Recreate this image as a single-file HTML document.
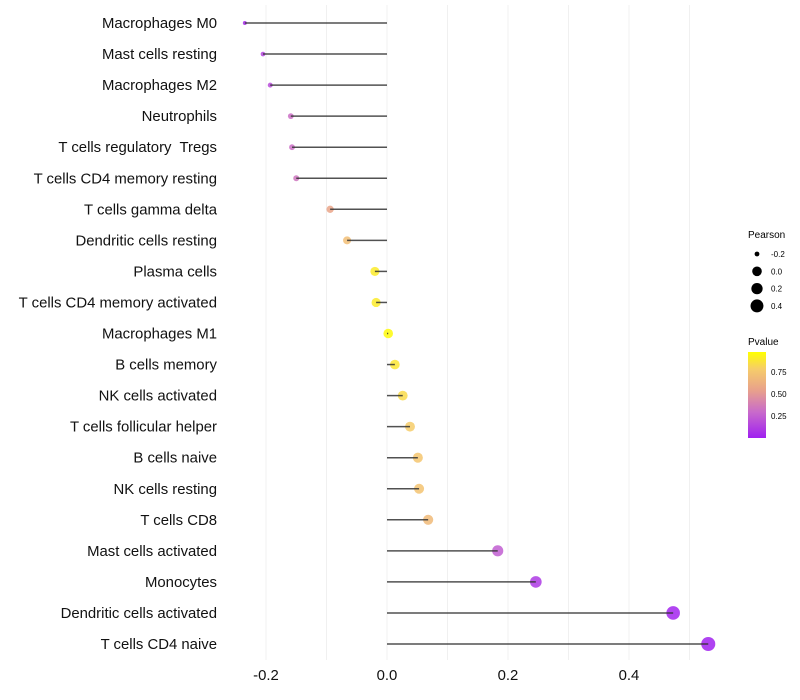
<!DOCTYPE html>
<html><head><meta charset="utf-8"><style>
body{margin:0;background:#fff;}
svg{display:block;font-family:"Liberation Sans",sans-serif;}
text{white-space:pre;}
</style></head><body>
<svg id="chart" width="800" height="700">
<defs><linearGradient id="pgrad" x1="0" y1="1" x2="0" y2="0">
<stop offset="0" stop-color="#A020F0"/><stop offset="0.3" stop-color="#C86ACB"/>
<stop offset="0.55" stop-color="#E8A08C"/><stop offset="0.8" stop-color="#F6CC6A"/>
<stop offset="1" stop-color="#FFFF00"/></linearGradient></defs>
<g id="grid"></g>
<g id="points"></g>
<g id="marks"></g>
<g id="ylabels"></g>
<g id="xlabels"></g>
<g id="lp">
<text x="748" y="238" font-size="10">Pearson</text></g>
<g>
<text x="748" y="345" font-size="10">Pvalue</text>
<rect x="748" y="352" width="18" height="86" fill="url(#pgrad)"/>
<text x="771" y="375" font-size="8">0.75</text>
<text x="771" y="397" font-size="8">0.50</text>
<text x="771" y="419" font-size="8">0.25</text>
</g>
</svg>
<script>
const categories=["Macrophages M0","Mast cells resting","Macrophages M2","Neutrophils","T cells regulatory  Tregs","T cells CD4 memory resting","T cells gamma delta","Dendritic cells resting","Plasma cells","T cells CD4 memory activated","Macrophages M1","B cells memory","NK cells activated","T cells follicular helper","B cells naive","NK cells resting","T cells CD8","Mast cells activated","Monocytes","Dendritic cells activated","T cells CD4 naive"];
const pearson=[-0.235,-0.205,-0.193,-0.159,-0.157,-0.150,-0.094,-0.066,-0.020,-0.018,0.002,0.013,0.026,0.038,0.051,0.053,0.068,0.183,0.246,0.473,0.531];
const pvalues=[0.05,0.15,0.18,0.32,0.32,0.35,0.58,0.72,0.92,0.92,0.98,0.9,0.86,0.8,0.76,0.75,0.7,0.25,0.1,0.02,0.01];
const xticks=[-0.2,0,0.2,0.4];
const xtickLabels=["-0.2","0.0","0.2","0.4"];
const legendVals=[-0.2,0,0.2,0.4];
const legendLabels=["-0.2","0.0","0.2","0.4"];
const NS="http://www.w3.org/2000/svg";
const X=v=>387+v*605;
const Y=i=>23+i*31.05;
const R=v=>Math.max(1.5, v<0 ? 4.8+12*v : 4.8+4.2*v);
const stops=[[0,[160,32,240]],[0.3,[200,106,203]],[0.55,[232,160,140]],[0.8,[246,204,106]],[1,[255,255,0]]];
function col(p){for(let i=1;i<stops.length;i++){if(p<=stops[i][0]){const a=stops[i-1],b=stops[i],t=(p-a[0])/(b[0]-a[0]);return 'rgb('+a[1].map((c,k)=>Math.round(c+(b[1][k]-c)*t)).join(',')+')';}}return 'rgb(255,255,0)';}
function mk(tag,attrs,parent){const e=document.createElementNS(NS,tag);for(const k in attrs)e.setAttribute(k,attrs[k]);document.getElementById(parent).appendChild(e);return e;}
for(let k=-2;k<=5;k++){const v=k*0.1;const g=mk('line',{x1:X(v),x2:X(v),y1:5,y2:660,stroke:'#f0f0f0','stroke-width':1},'grid');

}
categories.forEach((c,i)=>{
const p=mk('circle',{cx:X(pearson[i]),cy:Y(i),r:R(pearson[i]),fill:col(pvalues[i]),'fill-opacity':0.85},'points');


const s=mk('line',{x1:X(0),x2:X(pearson[i]),y1:Y(i),y2:Y(i),stroke:'#333','stroke-width':1.5,'stroke-opacity':0.85},'marks');


const t=mk('text',{x:217,y:Y(i)+5,'font-size':14.9,'text-anchor':'end',fill:'#111'},'ylabels');t.textContent=c;


});
xticks.forEach((v,i)=>{const t=mk('text',{x:X(v),y:680,'font-size':14.9,'text-anchor':'middle',fill:'#111'},'xlabels');t.textContent=xtickLabels[i];

});
legendVals.forEach((v,i)=>{const y=254+i*17.3;
const c=mk('circle',{cx:757,cy:y,r:R(v),fill:'#000'},'lp');


const t=mk('text',{x:771,y:y+3,'font-size':8},'lp');t.textContent=legendLabels[i];

});
</script>
</body></html>
